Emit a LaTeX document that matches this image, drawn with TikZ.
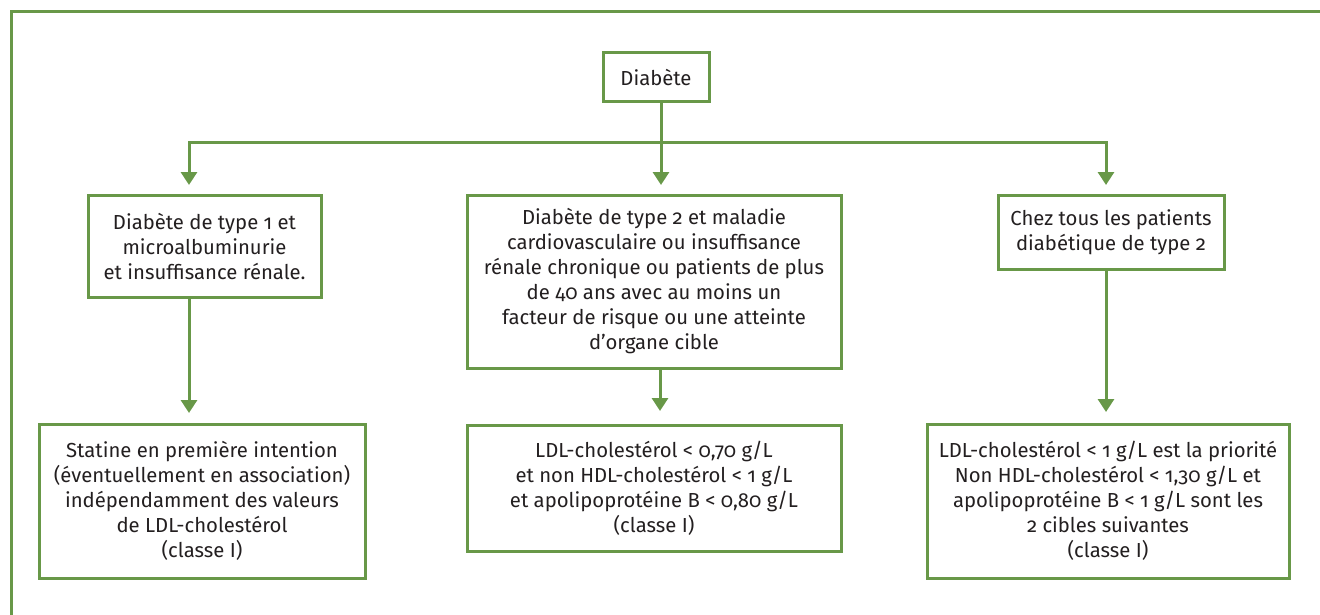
\documentclass[tikz,border=0pt]{standalone}
\usepackage{fontspec}
\setmainfont{Fira Sans}[Numbers=OldStyle]
\usetikzlibrary{arrows.meta}
\definecolor{lgreen}{RGB}{104,152,72}
\definecolor{ink}{RGB}{35,31,32}
\tikzset{
  box/.style={draw=lgreen, line width=3pt, fill=white, inner sep=0pt, align=center,
    text=ink, font=\fontsize{20.3}{25}\selectfont, anchor=center},
  link/.style={draw=lgreen, line width=3pt},
  arr/.style={link, -{Triangle[width=16pt,length=13pt]}},
}
\begin{document}
\begin{tikzpicture}[x=1pt,y=-1pt]
\useasboundingbox (0,0) rectangle (1320,615);
\draw[link] (1320,12) -- (11,12) -- (11,615);
\node[box, minimum width=106pt, minimum height=49pt] (d) at (656,77.5) {Diabète};
\node[box, minimum width=233pt, minimum height=102pt] (b1) at (204.5,246)
  {Diabète de type 1 et\\ microalbuminurie\\ et insuffisance rénale.};
\node[box, minimum width=374pt, minimum height=173pt] (b2) at (654,281.5)
  {Diabète de type 2 et maladie\\ cardiovasculaire ou insuffisance\\ rénale chronique ou patients de plus\\ de 40 ans avec au moins un\\ facteur de risque ou une atteinte\\ d’organe cible};
\node[box, minimum width=226pt, minimum height=74pt] (b3) at (1111,232)
  {Chez tous les patients\\ diabétique de type 2};
\node[box, minimum width=326pt, minimum height=154pt] (b4) at (202,501)
  {Statine en première intention\\ (éventuellement en association)\\ indépendamment des valeurs\\ de LDL-cholestérol\\ (classe I)};
\node[box, minimum width=374pt, minimum height=126pt] (b5) at (654,488)
  {LDL-cholestérol < 0,70 g/L\\ et non HDL-cholestérol < 1 g/L\\ et apolipoprotéine B < 0,80 g/L\\ (classe I)};
\node[box, minimum width=362pt, minimum height=154pt] (b6) at (1108,501)
  {LDL-cholestérol < 1 g/L est la priorité\\ Non HDL-cholestérol < 1,30 g/L et\\ apolipoprotéine B < 1 g/L sont les\\ 2 cibles suivantes\\ (classe I)};
\coordinate (j) at (661,143);
\coordinate (jl) at (189,143);
\coordinate (jr) at (1106,143);
\coordinate (t1) at (189,185);
\coordinate (t2) at (661,185);
\coordinate (t3) at (1106,185);
\coordinate (t4) at (189,413);
\coordinate (t5) at (660,411);
\coordinate (t6) at (1106,412);
\draw[link] (d.south -| j) -- (j);
\draw[link, {Triangle[width=16pt,length=13pt]}-{Triangle[width=16pt,length=13pt]}] (t1) -- (jl) -- (jr) -- (t3);
\draw[arr] (j) -- (t2);
\draw[arr] (b1.south -| t4) -- (t4);
\draw[arr] (b2.south -| t5) -- (t5);
\draw[arr] (b3.south -| t6) -- (t6);
\end{tikzpicture}
\end{document}
